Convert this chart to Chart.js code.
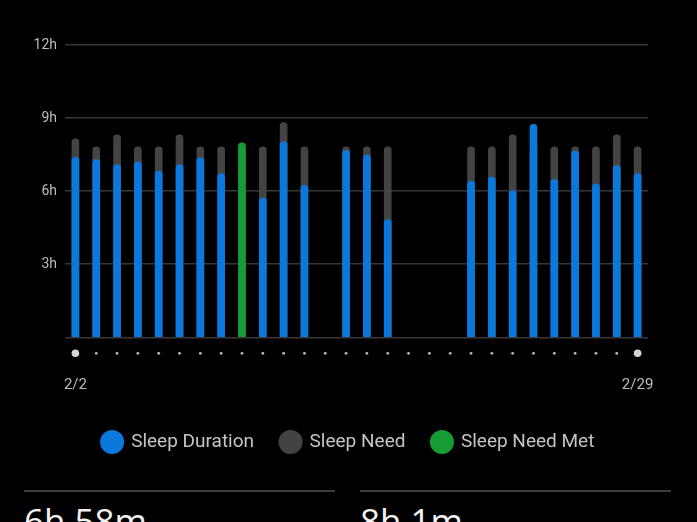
<!DOCTYPE html>
<html>
<head>
<meta charset="utf-8">
<script src="https://cdn.jsdelivr.net/npm/chart.js@4"></script>
<style>
  html, body { margin: 0; padding: 0; background: #000; overflow: hidden; }
  #wrap { position: relative; width: 697px; height: 522px; }
  #chart { position: absolute; left: 0; top: 0; }
  .rule { position: absolute; top: 490px; height: 2px; background: #3c3c3c; }
  .stat { position: absolute; top: 501px; color: #f2f2f2; font-family: 'Open Sans', sans-serif; font-size: 35px; line-height: 40px; }
</style>
</head>
<body>
<div id="wrap">
  <canvas id="chart" width="697" height="480"></canvas>
  <div class="rule" style="left:24px;width:311px"></div>
  <div class="rule" style="left:360px;width:311px"></div>
  <div class="stat" style="left:24px">6h 58m</div>
  <div class="stat" style="left:360px">8h 1m</div>
</div>
<script>
// Sleep per night, hours (null = no data)
const days = ['2/2','2/3','2/4','2/5','2/6','2/7','2/8','2/9','2/10','2/11','2/12','2/13','2/14','2/15',
  '2/16','2/17','2/18','2/19','2/20','2/21','2/22','2/23','2/24','2/25','2/26','2/27','2/28','2/29'];
const sleepDuration = [7.39, 7.30, 7.09, 7.19, 6.82, 7.09, 7.37, 6.72, 7.98, 5.72, 8.02, 6.24, null, 7.68,
  7.48, 4.83, null, null, null, 6.41, 6.58, 6.02, 8.74, 6.47, 7.64, 6.30, 7.05, 6.72];
const sleepNeed = [8.15, 7.82, 8.31, 7.82, 7.82, 8.31, 7.82, 7.82, 7.82, 7.82, 8.81, 7.82, null, 7.82,
  7.82, 7.82, null, null, null, 7.82, 7.82, 8.31, 7.82, 7.82, 7.82, 7.82, 8.31, 7.82];
const needMetDays = ['2/10'];
const yTicks = [0, 3, 6, 9, 12];

const BLUE = '#0a78dc';
const GRAY = '#434343';
const GREEN = '#159c35';

const sleepColors = days.map(d => needMetDays.includes(d) ? GREEN : BLUE);

// dots under each day on the x axis
const dotPlugin = {
  id: 'dayDots',
  afterDraw(chart) {
    const ctx = chart.ctx;
    const xs = chart.scales.x;
    const y = xs.top + 16;
    ctx.save();
    days.forEach((d, i) => {
      const x = xs.getPixelForValue(i);
      const big = i === 0 || i === days.length - 1;
      ctx.beginPath();
      ctx.fillStyle = big ? '#d6d6d6' : '#bdbdbd';
      ctx.arc(x, y, big ? 3.8 : 1.4, 0, Math.PI * 2);
      ctx.fill();
    });
    ctx.restore();
  }
};

new Chart(document.getElementById('chart').getContext('2d'), {
  type: 'bar',
  data: {
    labels: days,
    datasets: [
      {
        label: 'Sleep Duration',
        data: sleepDuration,
        backgroundColor: sleepColors,
        barThickness: 7,
        borderRadius: 4,
        grouped: false
      },
      {
        label: 'Sleep Need',
        data: sleepNeed,
        backgroundColor: GRAY,
        barThickness: 7,
        borderRadius: 4,
        grouped: false
      }
    ]
  },
  options: {
    responsive: false,
    animation: false,
    layout: { padding: { top: 45, right: 0, bottom: 18.5, left: 0 } },
    plugins: {
      tooltip: { enabled: false },
      legend: {
        position: 'bottom',
        labels: {
          color: '#c4c4c4',
          font: { family: 'Roboto, sans-serif', size: 19 },
          usePointStyle: true,
          pointStyle: 'circle',
          boxHeight: 17,
          boxWidth: 22,
          padding: 27,
          generateLabels: () => [
            { text: 'Sleep Duration', fillStyle: BLUE, strokeStyle: BLUE, lineWidth: 0, pointStyle: 'circle', fontColor: '#c4c4c4' },
            { text: 'Sleep Need', fillStyle: GRAY, strokeStyle: GRAY, lineWidth: 0, pointStyle: 'circle', fontColor: '#c4c4c4' },
            { text: 'Sleep Need Met', fillStyle: GREEN, strokeStyle: GREEN, lineWidth: 0, pointStyle: 'circle', fontColor: '#c4c4c4' }
          ]
        }
      }
    },
    scales: {
      x: {
        grid: { display: false },
        border: { display: false },
        afterFit(scale) { scale.height = 68.2; },
        ticks: {
          autoSkip: false,
          maxRotation: 0,
          padding: 31,
          color: '#bdbdbd',
          font: { family: 'Roboto, sans-serif', size: 15 },
          callback: (v, i) => (i === 0 || i === days.length - 1) ? days[i] : ''
        }
      },
      y: {
        min: 0,
        max: 12,
        afterFit(scale) { scale.width = 65; },
        afterBuildTicks(scale) { scale.ticks = yTicks.map(v => ({ value: v })); },
        border: { display: false },
        grid: { color: '#383838', lineWidth: 1.5, drawTicks: false },
        ticks: {
          padding: 8,
          color: '#bdbdbd',
          font: { family: 'Roboto, sans-serif', size: 14 },
          callback: v => v === 0 ? '' : v + 'h'
        }
      },
      // empty right-hand axis that reserves the margin right of the plot
      yRight: {
        position: 'right',
        min: 0,
        max: 12,
        afterFit(scale) { scale.width = 49; },
        grid: { display: false },
        border: { display: false },
        ticks: { display: false }
      }
    }
  },
  plugins: [dotPlugin]
});
</script>
</body>
</html>
